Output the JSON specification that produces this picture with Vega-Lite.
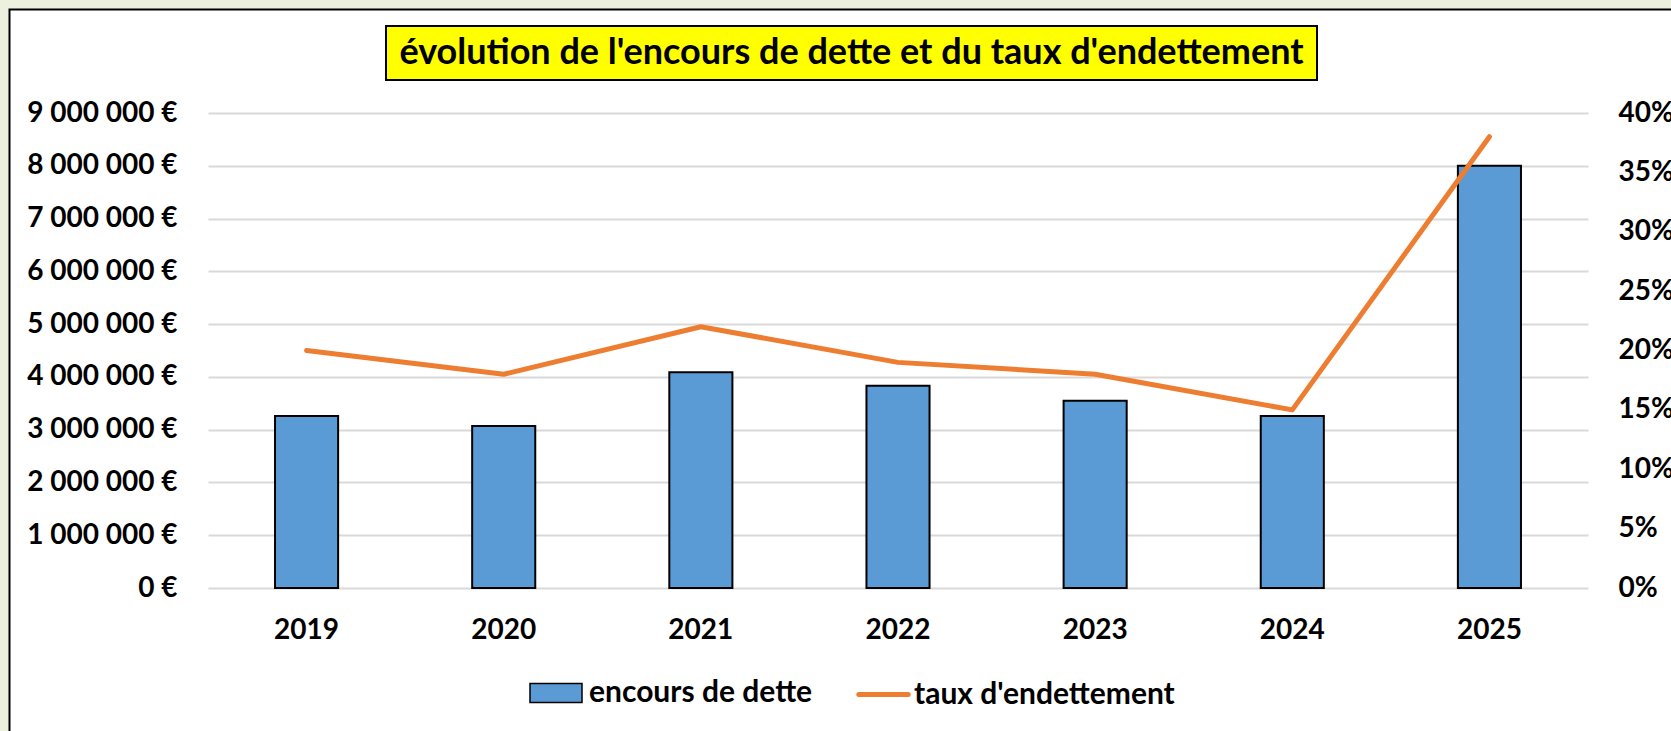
{
  "$schema": "https://vega.github.io/schema/vega-lite/v6.json",
  "background": "white",
  "padding": {"left": 0, "top": 0, "right": 0, "bottom": 0},
  "spacing": 87,
  "bounds": "flush",
  "config": {"font": "Lato", "view": {"stroke": null}},
  "datasets": {
    "annees": [
      {"annee": "2019", "encours": 3260000, "taux": 0.20},
      {"annee": "2020", "encours": 3070000, "taux": 0.18},
      {"annee": "2021", "encours": 4090000, "taux": 0.22},
      {"annee": "2022", "encours": 3830000, "taux": 0.19},
      {"annee": "2023", "encours": 3550000, "taux": 0.18},
      {"annee": "2024", "encours": 3260000, "taux": 0.15},
      {"annee": "2025", "encours": 8000000, "taux": 0.38}
    ],
    "titre": [{"texte": "évolution de l'encours de dette et du taux d'endettement"}],
    "vide": []
  },
  "vconcat": [
    {
      "spacing": 20,
      "bounds": "flush",
      "hconcat": [
        {
          "data": {"name": "vide"},
          "width": 158,
          "height": 54,
          "mark": {"type": "point", "opacity": 0},
          "encoding": {
            "color": {
              "datum": 0, "type": "quantitative",
              "scale": {"domain": [0, 1], "range": ["rgba(255,255,255,0)", "rgba(255,255,255,0)"]},
              "legend": {
                "orient": "none", "legendX": -203.5, "legendY": -21.5, "direction": "horizontal",
                "title": null, "values": [], "padding": 5,
                "gradientLength": 1720, "gradientThickness": 740,
                "gradientStrokeColor": "#000000", "gradientStrokeWidth": 2,
                "strokeColor": "#EBF1DE", "cornerRadius": 0,
                "encode": {"legend": {"update": {"strokeWidth": {"value": 9}}}}
              }
            }
          }
        },
        {
          "data": {"name": "titre"},
          "width": 931,
          "height": 54,
          "view": {"fill": "#FFFF00", "stroke": "#000000", "strokeWidth": 2},
          "mark": {"type": "text", "fontSize": 36, "fontWeight": "bold", "color": "#000000"},
          "encoding": {"text": {"field": "texte", "type": "nominal"}}
        }
      ]
    },
    {
      "data": {"name": "annees"},
      "width": 1380,
      "height": 475,
      "layer": [
        {
          "mark": {"type": "bar", "stroke": "#000000", "strokeWidth": 2},
          "encoding": {
            "x": {
              "field": "annee", "type": "ordinal",
              "scale": {"paddingInner": 0.68, "paddingOuter": 0.34},
              "axis": {"title": null, "labelAngle": 0, "labelFontSize": 28, "labelFontWeight": "bold", "labelColor": "#000000", "ticks": false, "domain": false, "labelPadding": 28, "grid": false}
            },
            "y": {
              "field": "encours", "type": "quantitative",
              "scale": {"domain": [0, 9000000], "nice": false},
              "axis": {
                "title": null,
                "values": [0, 1000000, 2000000, 3000000, 4000000, 5000000, 6000000, 7000000, 8000000, 9000000],
                "labelExpr": "replace(format(datum.value, ',.0f'), /,/g, ' ') + ' €'",
                "labelFontSize": 28, "labelFontWeight": "bold", "labelColor": "#000000",
                "ticks": false, "domain": false, "labelPadding": 31,
                "grid": true, "gridColor": "#D9D9D9", "gridWidth": 2
              }
            },
            "fill": {
              "datum": "encours de dette", "type": "nominal",
              "scale": {"domain": ["encours de dette"], "range": ["#5B9BD5"]},
              "legend": {
                "orient": "none", "legendX": 321, "legendY": 640, "direction": "horizontal",
                "title": null, "labelFontSize": 30, "labelFontWeight": "bold", "labelColor": "#000000", "labelLimit": 0,
                "symbolSize": 2704, "labelOffset": 6,
                "symbolType": "M-1,-0.37H1V0.37H-1Z",
                "symbolStrokeColor": "#000000", "symbolStrokeWidth": 1.5, "symbolOpacity": 1
              }
            }
          }
        },
        {
          "mark": {"type": "line", "strokeWidth": 5, "strokeCap": "round", "strokeJoin": "round"},
          "encoding": {
            "x": {"field": "annee", "type": "ordinal"},
            "y": {
              "field": "taux", "type": "quantitative",
              "scale": {"domain": [0, 0.4], "nice": false},
              "axis": {
                "title": null, "orient": "right",
                "values": [0, 0.05, 0.1, 0.15, 0.2, 0.25, 0.3, 0.35, 0.4],
                "format": ".0%",
                "labelFontSize": 28, "labelFontWeight": "bold", "labelColor": "#000000",
                "ticks": false, "domain": false, "labelPadding": 30, "grid": false
              }
            },
            "stroke": {
              "datum": "taux d'endettement", "type": "nominal",
              "scale": {"domain": ["taux d'endettement"], "range": ["#ED7D31"]},
              "legend": {
                "orient": "none", "legendX": 647, "legendY": 640, "direction": "horizontal",
                "title": null, "labelFontSize": 30, "labelFontWeight": "bold", "labelColor": "#000000", "labelLimit": 0,
                "symbolSize": 2704, "labelOffset": 2,
                "symbolType": "M-0.95,0H0.95",
                "symbolStrokeWidth": 5, "symbolFillColor": "transparent", "symbolOpacity": 1,
                "encode": {"symbols": {"update": {"strokeCap": {"value": "round"}}}}
              }
            }
          }
        }
      ],
      "resolve": {"scale": {"y": "independent"}}
    }
  ]
}
